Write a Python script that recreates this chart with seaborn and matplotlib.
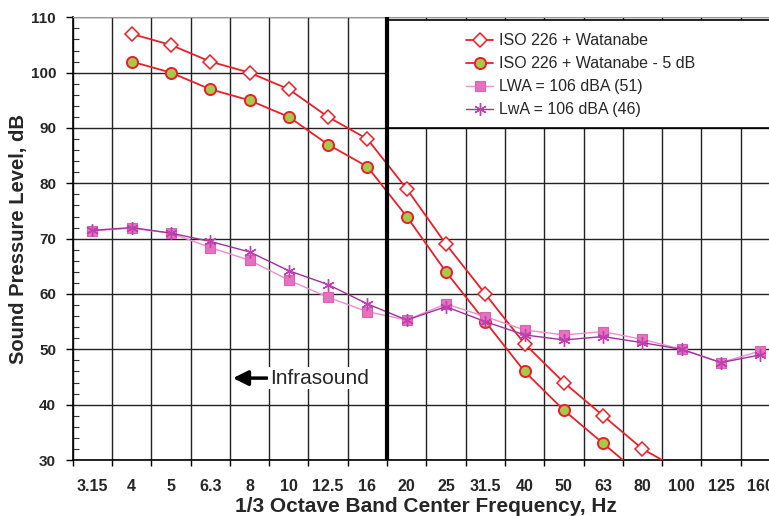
# Sound pressure level vs 1/3 octave band - threshold curves and LWA spectra
import numpy as np
import pandas as pd
import matplotlib
matplotlib.use('Agg')
import matplotlib.pyplot as plt
from matplotlib.patches import Rectangle
import seaborn as sns

sns.set_theme(style='white')
plt.rcParams['font.family'] = ['Liberation Sans', 'DejaVu Sans']

# Data
bands = ['3.15', '4', '5', '6.3', '8', '10', '12.5', '16', '20', '25', '31.5',
         '40', '50', '63', '80', '100', '125', '160']
iso_watanabe = [np.nan, 107, 105, 102, 100, 97, 92, 88, 79, 69, 60, 51, 44, 38, 32, 28, np.nan, np.nan]
iso_watanabe_m5 = [np.nan, 102, 100, 97, 95, 92, 87, 83, 74, 64, 55, 46, 39, 33, 27, 23, np.nan, np.nan]
lwa_51 = [71.4, 71.9, 71.0, 68.4, 66.1, 62.5, 59.4, 56.8, 55.3, 58.2, 55.9, 53.5, 52.6, 53.2, 51.8, 50.0, 47.6, 49.7]
lwa_46 = [71.5, 72.0, 71.0, 69.5, 67.6, 64.2, 61.7, 58.2, 55.3, 57.7, 55.0, 52.6, 51.7, 52.3, 51.2, 50.0, 47.6, 49.0]

df = pd.DataFrame({'pos': np.arange(len(bands)), 'band': bands,
                   'iso': iso_watanabe, 'iso5': iso_watanabe_m5,
                   'lwa51': lwa_51, 'lwa46': lwa_46})

fig = plt.figure(figsize=(7.69, 5.16), dpi=100)
ax = fig.add_axes([72.7 / 769, 1 - 460 / 516, (780 - 72.7) / 769, (460 - 17.3) / 516])

red = '#e8202a'
sns.lineplot(x='pos', y='iso', data=df, ax=ax, color=red, lw=1.3, marker='D', markersize=7,
             markerfacecolor='white', markeredgecolor=red, markeredgewidth=1.1,
             label='ISO 226 + Watanabe', zorder=4)
sns.lineplot(x='pos', y='iso5', data=df, ax=ax, color=red, lw=1.3, marker='o', markersize=8,
             markerfacecolor='#a6c94a', markeredgecolor=red, markeredgewidth=1.4,
             label='ISO 226 + Watanabe - 5 dB', zorder=4)
sns.lineplot(x='pos', y='lwa51', data=df, ax=ax, color='#f08ccf', lw=1.0, marker='s', markersize=7.5,
             markerfacecolor='#e472bf', markeredgecolor='#d862b2', markeredgewidth=0.8,
             label='LWA = 106 dBA (51)', zorder=5)
sns.lineplot(x='pos', y='lwa46', data=df, ax=ax, color='#a0329b', lw=1.0, marker=(6, 2, 0), markersize=9,
             markeredgecolor='#c040b0', markeredgewidth=1.0,
             label='LwA = 106 dBA (46)', zorder=5)

# Axes, ticks and grid
ax.set_xlim(-0.5, len(bands) - 0.5)
ax.set_ylim(30, 110)
ax.set_xticks(np.arange(len(bands)))
ax.set_xticklabels(bands, fontsize=11.5, fontweight='bold')
ax.set_xticks(np.arange(len(bands) + 1) - 0.5, minor=True)
ax.set_yticks(np.arange(30, 111, 10))
ax.set_yticklabels([str(v) for v in range(30, 111, 10)], fontsize=11, fontweight='bold')
ax.set_yticks(np.arange(30, 111, 2), minor=True)
ax.tick_params(axis='x', which='major', length=0, pad=14)
ax.tick_params(axis='x', which='minor', direction='out', length=4, width=1, color='black', bottom=True)
ax.tick_params(axis='y', which='major', direction='out', length=5, width=1, color='black', left=True, pad=7)
ax.tick_params(axis='y', which='minor', direction='in', length=4, width=0.8, color='#333', left=True)
ax.grid(True, axis='y', which='major', color='#222', lw=1.0)
ax.grid(True, axis='x', which='minor', color='#222', lw=1.0)
ax.grid(False, axis='x', which='major')
ax.set_axisbelow(True)
for s in ['left', 'bottom']:
    ax.spines[s].set_color('black')
    ax.spines[s].set_linewidth(1.2)
ax.spines['top'].set_color('#999')
ax.spines['top'].set_linewidth(0.8)

ax.set_xlabel('1/3 Octave Band Center Frequency, Hz', fontsize=15, fontweight='bold', labelpad=2)
ax.set_ylabel('Sound Pressure Level, dB', fontsize=14.5, fontweight='bold', labelpad=2)

# Infrasound boundary line and legend box
ax.add_patch(Rectangle((7.5, 90), 10.5, 19.5, facecolor='white', edgecolor='black', lw=1.2, zorder=3))
ax.axvline(7.5, color='black', lw=3, zorder=6)
ax.legend(loc='upper left', bbox_to_anchor=(0.545, 0.982), frameon=False, fontsize=11.5,
          borderpad=0, handlelength=1.7, handletextpad=0.35, labelspacing=0.5)

ax.annotate('Infrasound', xy=(3.58, 44.8), xytext=(4.52, 44.8), fontsize=15,
            va='center', ha='left',
            bbox=dict(facecolor='white', edgecolor='none', pad=1),
            arrowprops=dict(arrowstyle='-|>,head_length=0.6,head_width=0.3', color='black', lw=2.5,
                            shrinkA=1, shrinkB=0))

plt.savefig('out.png', dpi=100)
